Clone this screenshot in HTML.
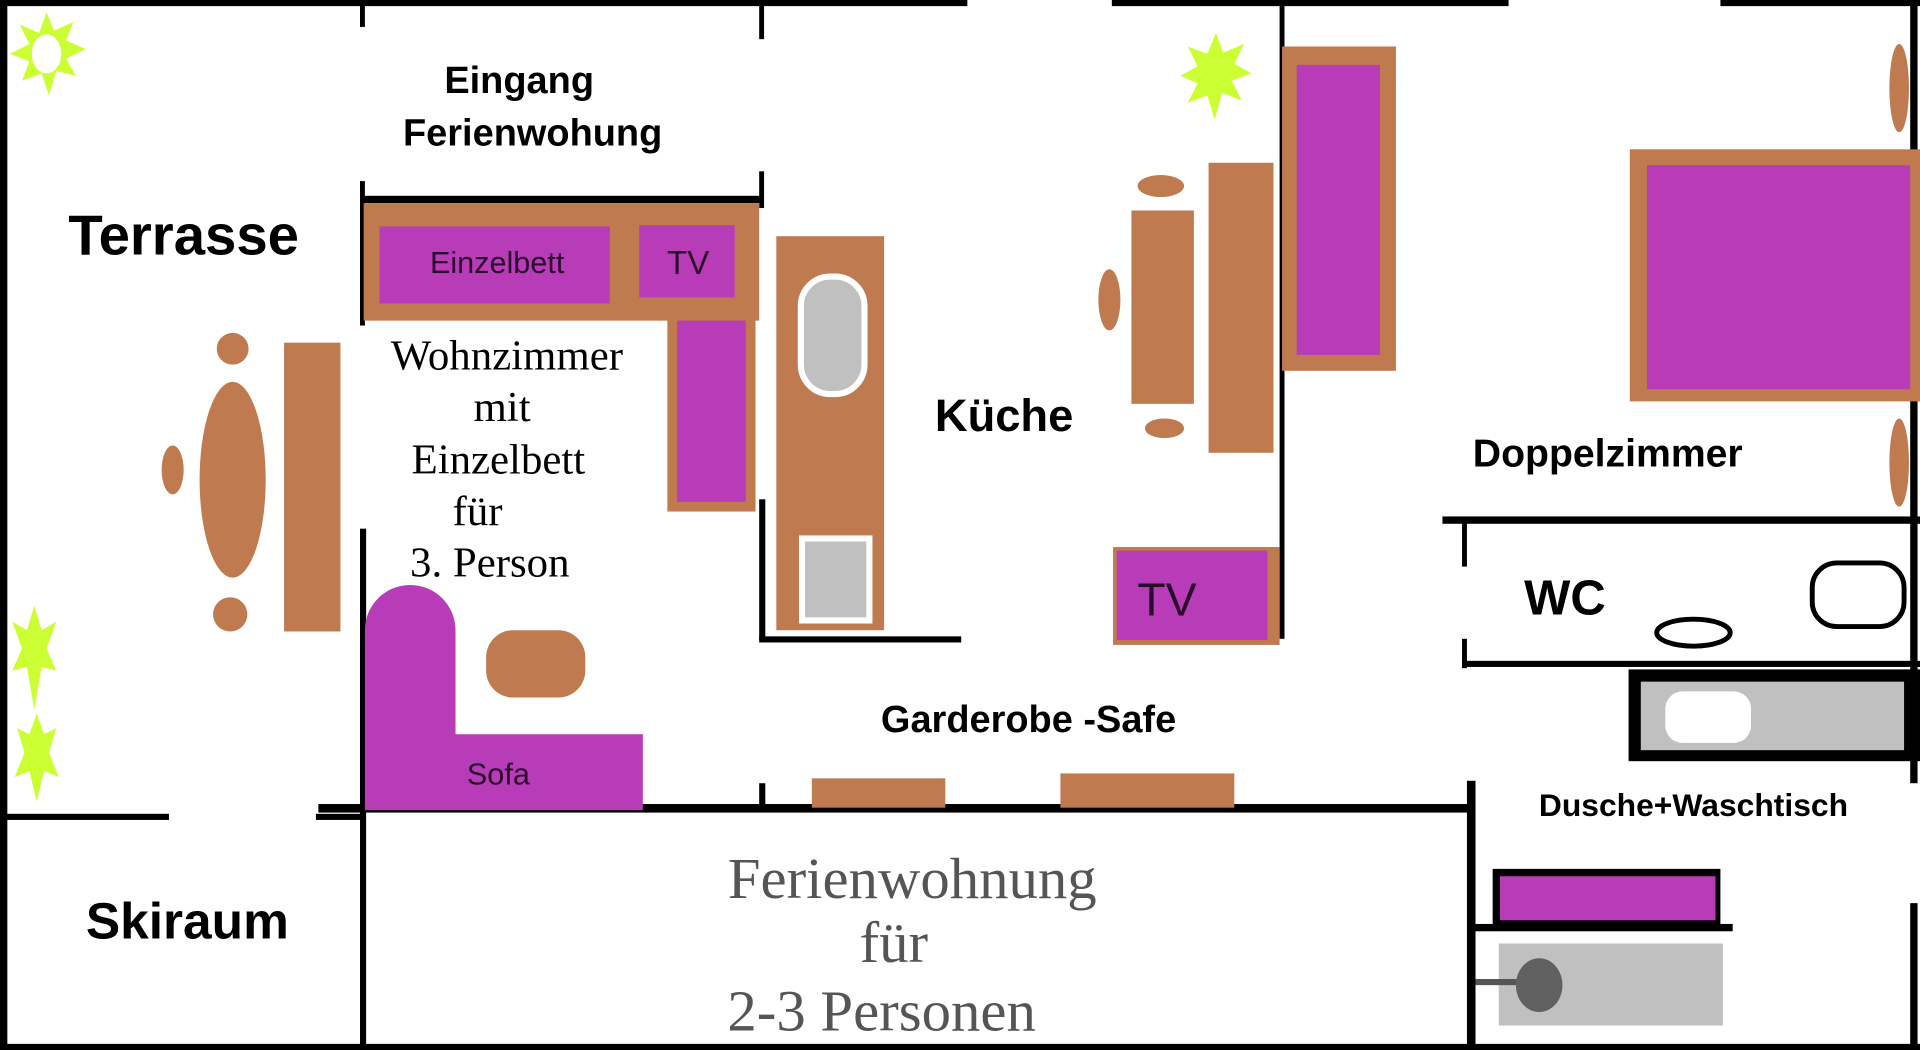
<!DOCTYPE html>
<html><head><meta charset="utf-8"><style>html,body{margin:0;padding:0;background:#fff;overflow:hidden}svg{display:block}</style></head><body>
<svg width="1920" height="1050" viewBox="0 0 1568 858" preserveAspectRatio="none" xmlns="http://www.w3.org/2000/svg">
<rect width="1568" height="858" fill="#fff"/>
<g fill="#000">
<rect x="0" y="0" width="6" height="858"/>
<rect x="0" y="0" width="790" height="5"/>
<rect x="908" y="0" width="324" height="5"/>
<rect x="1405" y="0" width="163" height="5"/>
<rect x="0" y="853" width="1568" height="5"/>
<rect x="294" y="0" width="4" height="22"/>
<rect x="294" y="148" width="4" height="118"/>
<rect x="294" y="432" width="5" height="426"/>
<rect x="294" y="160" width="328" height="6"/>
<rect x="620" y="0" width="4" height="32"/>
<rect x="620" y="140" width="4" height="30"/>
<rect x="620" y="408" width="5" height="115"/>
<rect x="620" y="520" width="165" height="5"/>
<rect x="620" y="640" width="5" height="22"/>
<rect x="1045" y="0" width="4" height="522"/>
<rect x="260" y="657" width="940" height="7"/>
<rect x="3" y="665" width="135" height="5"/>
<rect x="258" y="665" width="40" height="5"/>
<rect x="1198" y="638" width="7" height="220"/>
<rect x="1178" y="422" width="390" height="6"/>
<rect x="1194" y="425" width="4" height="38"/>
<rect x="1194" y="522" width="4" height="24"/>
<rect x="1194" y="540" width="374" height="5"/>
<rect x="1560" y="0" width="6" height="640"/>
<rect x="1560" y="738" width="6" height="120"/>
<rect x="1205" y="755" width="210" height="6"/>
<rect x="1330" y="547" width="238" height="75"/>
</g>
<rect x="1340" y="557" width="215" height="56" fill="#c0c0c0"/>
<rect x="1360" y="565" width="70" height="42" rx="14" fill="#fff"/>
<g fill="#ccff33">
<polygon points="38,10 44,25 60,18 54,33 70,40 54,48 62,62 46,58 40,78 34,60 18,66 24,50 8,44 24,36 16,20 32,27"/>
<polygon points="993,27 999,43 1016,36 1008,52 1022,60 1006,66 1014,82 998,76 992,98 986,78 970,84 978,68 964,62 978,54 970,38 986,44"/>
<polygon points="28,495 34,515 46,508 38,530 46,548 34,545 28,580 22,545 10,548 18,530 10,508 22,515"/>
<polygon points="30,583 36,600 46,595 40,615 48,635 36,630 30,655 24,630 12,635 20,615 14,595 24,600"/>
</g>
<ellipse cx="38" cy="44" rx="12" ry="16" fill="#fff"/>
<g fill="#c07a50">
<ellipse cx="190" cy="392" rx="27" ry="80"/>
<circle cx="190" cy="285" r="13"/>
<circle cx="188" cy="502" r="14"/>
<ellipse cx="141" cy="384" rx="9" ry="20"/>
<rect x="232" y="280" width="46" height="236"/>
</g>
<rect x="297" y="166" width="323" height="96" fill="#c07a50"/>
<rect x="310" y="185" width="188" height="63" fill="#b83bb8"/>
<rect x="522" y="184" width="78" height="59" fill="#b83bb8"/>
<rect x="545" y="250" width="72" height="168" fill="#c07a50"/>
<rect x="553" y="262" width="56" height="148" fill="#b83bb8"/>
<rect x="634" y="193" width="88" height="322" fill="#c07a50"/>
<rect x="654" y="226" width="52" height="96" rx="24" fill="#c0c0c0" stroke="#fff" stroke-width="5"/>
<rect x="655" y="440" width="55" height="67" fill="#c0c0c0" stroke="#fff" stroke-width="5"/>
<g fill="#c07a50">
<rect x="924" y="172" width="51" height="158"/>
<ellipse cx="948" cy="152" rx="19" ry="9"/>
<ellipse cx="951" cy="350" rx="16" ry="8"/>
<ellipse cx="906" cy="245" rx="9" ry="25"/>
<rect x="987" y="133" width="53" height="237"/>
<rect x="1047" y="38" width="93" height="265"/>
<rect x="909" y="447" width="136" height="80"/>
<rect x="663" y="636" width="109" height="24"/>
<rect x="866" y="632" width="142" height="28"/>
<rect x="1331" y="122" width="237" height="206"/>
<ellipse cx="1551" cy="72" rx="8" ry="36"/>
<ellipse cx="1551" cy="378" rx="8" ry="36"/>
<rect x="397" y="515" width="81" height="55" rx="22"/>
</g>
<rect x="1059" y="53" width="68" height="237" fill="#b83bb8"/>
<rect x="912" y="450" width="123" height="73" fill="#b83bb8"/>
<rect x="1345" y="135" width="215" height="183" fill="#b83bb8"/>
<path d="M298,662 L298,515 A37,37 0 0 1 372,515 L372,600 L525,600 L525,662 Z" fill="#b83bb8"/>
<ellipse cx="1383" cy="517" rx="30" ry="11" fill="none" stroke="#000" stroke-width="4"/>
<rect x="1480" y="460" width="75" height="52" rx="20" fill="none" stroke="#000" stroke-width="4"/>
<rect x="1219" y="710" width="186" height="46" fill="#000"/>
<rect x="1225" y="716" width="176" height="36" fill="#b83bb8"/>
<rect x="1224" y="771" width="183" height="67" fill="#c0c0c0"/>
<rect x="1205" y="800" width="40" height="5" fill="#555"/>
<ellipse cx="1257" cy="805" rx="19" ry="22" fill="#606060"/>
<g font-family="Liberation Sans, sans-serif" font-weight="bold" fill="#000" text-anchor="middle">
<text x="150" y="208" font-size="46">Terrasse</text>
<text x="424" y="76" font-size="31">Eingang</text>
<text x="435" y="119" font-size="31">Ferienwohung</text>
<text x="820" y="352" font-size="37">Küche</text>
<text x="840" y="598" font-size="31">Garderobe -Safe</text>
<text x="1313" y="381" font-size="32">Doppelzimmer</text>
<text x="1278" y="502" font-size="40">WC</text>
<text x="1383" y="667" font-size="26">Dusche+Waschtisch</text>
<text x="153" y="767" font-size="42">Skiraum</text>
</g>
<g font-family="Liberation Sans, sans-serif" fill="#2a0a2a" text-anchor="middle">
<text x="406" y="223" font-size="25">Einzelbett</text>
<text x="562" y="224" font-size="27">TV</text>
<text x="953" y="503" font-size="38">TV</text>
<text x="407" y="641" font-size="25">Sofa</text>
</g>
<g font-family="Liberation Serif, serif" fill="#000" text-anchor="middle" font-size="35">
<text x="414" y="302">Wohnzimmer</text>
<text x="410" y="344">mit</text>
<text x="407" y="387">Einzelbett</text>
<text x="390" y="429">für</text>
<text x="400" y="471">3. Person</text>
</g>
<g font-family="Liberation Serif, serif" fill="#555" text-anchor="middle" font-size="48">
<text x="745" y="734">Ferienwohnung</text>
<text x="730" y="786">für</text>
<text x="720" y="842">2-3 Personen</text>
</g>
</svg>
</body></html>
